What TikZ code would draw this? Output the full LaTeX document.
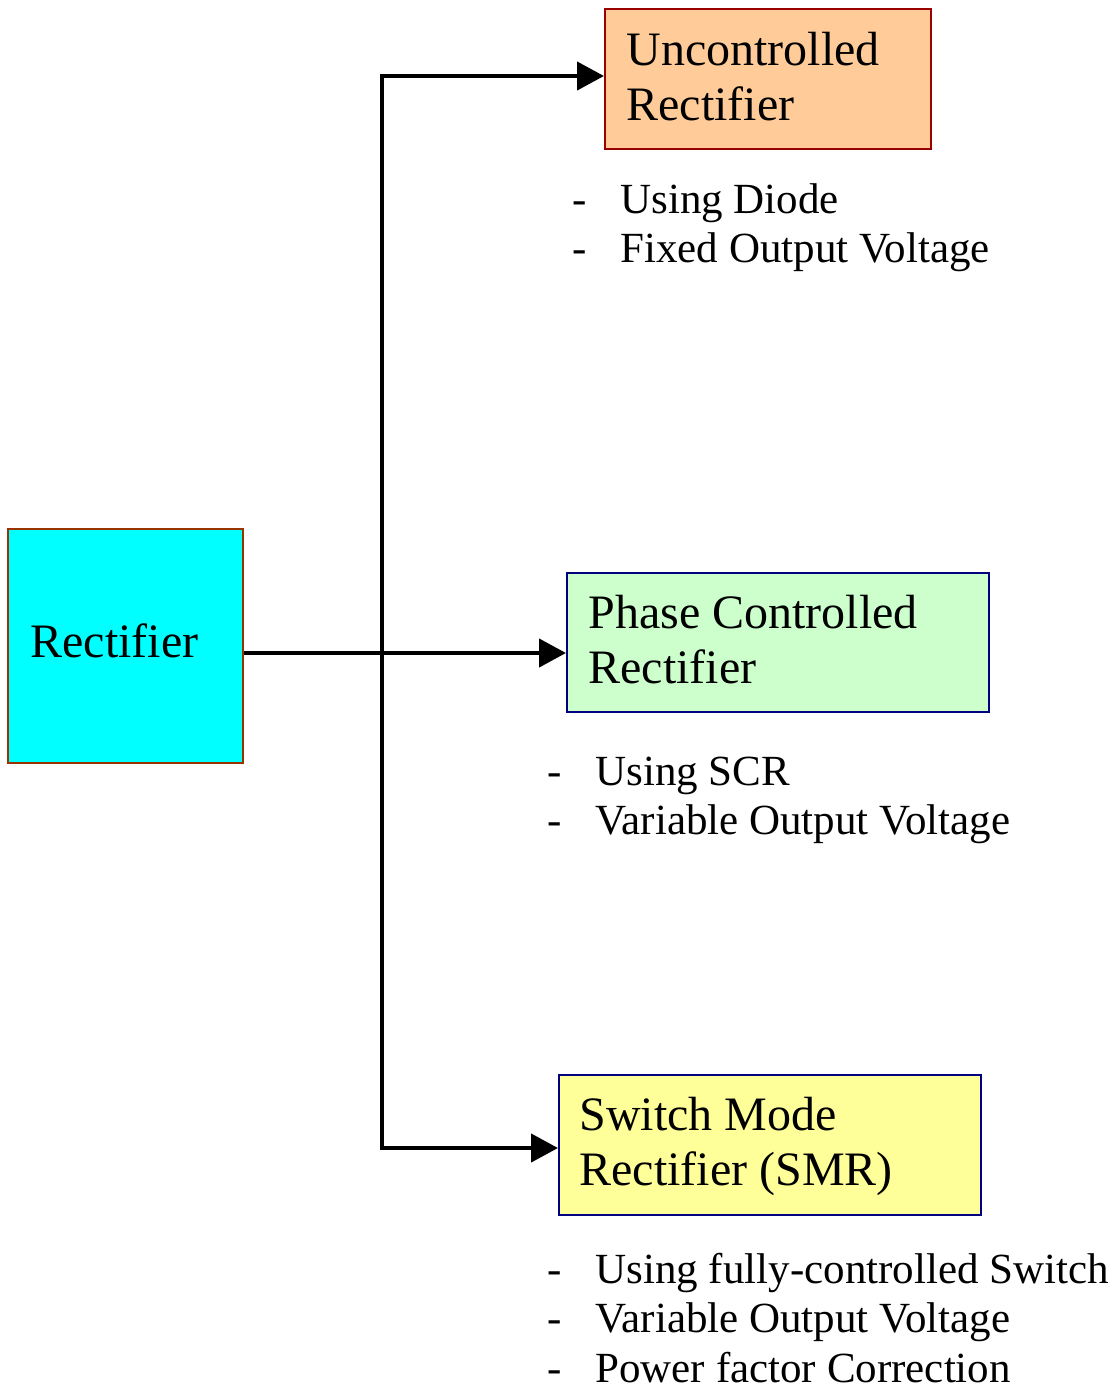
\documentclass[tikz,border=0pt]{standalone}
\usepackage{fontspec}
\setmainfont{Liberation Serif}
\usetikzlibrary{arrows.meta}
\definecolor{rectfill}{HTML}{00FFFF}
\definecolor{rectdraw}{HTML}{993300}
\definecolor{uncfill}{HTML}{FFCC99}
\definecolor{uncdraw}{HTML}{990000}
\definecolor{phfill}{HTML}{CCFFCC}
\definecolor{smrfill}{HTML}{FFFF99}
\definecolor{navy}{HTML}{000080}
\newcommand{\boxtext}[2]{\begin{tabular}[t]{@{}l@{}}#1\\#2\end{tabular}}
\newcommand{\bl}[1]{\makebox[24pt][l]{-}#1}
\tikzset{
  blk/.style={rectangle, line width=1pt, inner sep=0pt},
  boxlbl/.style={anchor=base west, inner sep=0pt, font=\fontsize{24}{27.5}\selectfont},
  lst/.style={anchor=base west, inner sep=0pt, font=\fontsize{21.5}{24.75}\selectfont},
  conn/.style={line width=2.2pt, line join=miter},
  arr/.style={conn, -{Triangle[length=13.5pt,width=14pt]}}
}
\begin{document}
\begin{tikzpicture}[x=0.5pt,y=-0.5pt]
\useasboundingbox (0,0) rectangle (1113,1388);
% boxes
\node[blk, draw=rectdraw, fill=rectfill, minimum width=117.5pt, minimum height=117pt] (rect) at (125.5,646) {};
\node[blk, draw=uncdraw, fill=uncfill, minimum width=163pt, minimum height=70pt] (unc) at (768,79) {};
\node[blk, draw=navy, fill=phfill, minimum width=211pt, minimum height=69.5pt] (phase) at (778,642.5) {};
\node[blk, draw=navy, fill=smrfill, minimum width=211pt, minimum height=70pt] (smr) at (770,1145) {};
% box texts
\node[boxlbl] (rectt) at (30,657) {Rectifier};
\node[boxlbl] (unct) at (626,65) {\boxtext{Uncontrolled}{Rectifier}};
\node[boxlbl] (phaset) at (588,628) {\boxtext{Phase Controlled}{Rectifier}};
\node[boxlbl] (smrt) at (579,1130) {\boxtext{Switch Mode}{Rectifier (SMR)}};
% lists
\node[lst] (uncl) at (572,213) {\begin{tabular}[t]{@{}l@{}}\bl{Using Diode}\\\bl{Fixed Output Voltage}\end{tabular}};
\node[lst] (phl) at (547,785) {\begin{tabular}[t]{@{}l@{}}\bl{Using SCR}\\\bl{Variable Output Voltage}\end{tabular}};
\node[lst] (smrl) at (547,1283) {\begin{tabular}[t]{@{}l@{}}\bl{Using fully-controlled Switch}\\\bl{Variable Output Voltage}\\\bl{Power factor Correction}\end{tabular}};
% connectors
\coordinate (jtop) at (382,76);
\coordinate (jmid) at (382,653);
\coordinate (jbot) at (382,1148);
\draw[arr] (rect.east |- jmid) -- (phase.west |- jmid);
\draw[arr] (jmid) |- (unc.west |- jtop);
\draw[arr] (jmid) |- (smr.west |- jbot);
\end{tikzpicture}
\end{document}
